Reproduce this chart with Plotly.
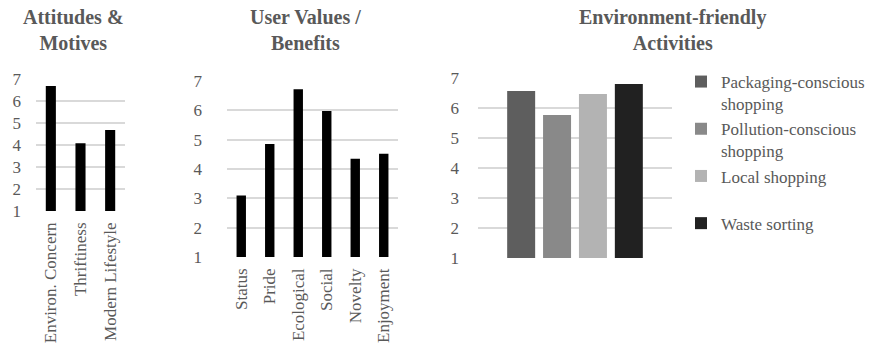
import plotly.graph_objects as go

# Mean scores on a 1-7 scale
attitude_labels = ["Environ. Concern", "Thriftiness", "Modern Lifestyle"]
attitude_scores = [6.68, 4.08, 4.68]

value_labels = ["Status", "Pride", "Ecological", "Social", "Novelty", "Enjoyment"]
value_scores = [3.10, 4.85, 6.72, 5.98, 4.35, 4.52]

activity_names = ["Packaging-conscious<br>shopping", "Pollution-conscious<br>shopping",
                  "Local shopping<br> ", "Waste sorting"]
activity_scores = [6.57, 5.77, 6.47, 6.80]
activity_colors = ["#5e5e5e", "#898989", "#b3b3b3", "#212121"]

tick_vals = [1, 2, 3, 4, 5, 6, 7]
titles = ["Attitudes &<br>Motives", "User Values /<br>Benefits", "Environment-friendly<br>Activities"]

W, H = 870, 346
FONT = "Liberation Serif"
TXT = "#595959"
GRID = "#d9d9d9"


def xd(a, b):
    return [a / W, b / W]


def yd(top, bottom):
    return [1 - bottom / H, 1 - top / H]


fig = go.Figure()

fig.add_trace(go.Bar(x=attitude_labels, y=attitude_scores, width=0.34,
                     marker=dict(color="#000000"), showlegend=False,
                     xaxis="x", yaxis="y"))
fig.add_trace(go.Bar(x=value_labels, y=value_scores, width=0.33,
                     marker=dict(color="#000000"), showlegend=False,
                     xaxis="x2", yaxis="y2"))
for i, (name, val, col) in enumerate(zip(activity_names, activity_scores, activity_colors)):
    fig.add_trace(go.Bar(x=["Activities"], y=[val], name=name,
                         marker=dict(color=col), legendgroup=f"g{i}",
                         xaxis="x3", yaxis="y3"))

yaxis_common = dict(range=[1, 7], tickvals=tick_vals, showgrid=True, gridcolor=GRID,
                    gridwidth=1.5, zeroline=False, showline=False, ticks="",
                    automargin=False,
                    tickfont=dict(family=FONT, size=17, color=TXT))
xaxis_common = dict(showgrid=False, zeroline=False, showline=False, ticks="",
                    automargin=False, tickangle=-90, ticklabelstandoff=7,
                    tickfont=dict(family=FONT, size=17, color=TXT))

fig.update_layout(
    template="none",
    width=W, height=H, margin=dict(l=0, r=0, t=0, b=0, pad=0),
    paper_bgcolor="white", plot_bgcolor="white",
    barmode="group", bargap=0.26, bargroupgap=0.22,
    xaxis=dict(domain=xd(36, 125), anchor="y", **xaxis_common),
    yaxis=dict(domain=yd(79, 211), anchor="x", ticklabelstandoff=14, **yaxis_common),
    xaxis2=dict(domain=xd(227, 398), anchor="y2", **xaxis_common),
    yaxis2=dict(domain=yd(81, 257), anchor="x2", ticklabelstandoff=24, **yaxis_common),
    xaxis3=dict(domain=xd(478, 672), anchor="y3", showticklabels=False, **xaxis_common),
    yaxis3=dict(domain=yd(78, 258), anchor="x3", ticklabelstandoff=18, **yaxis_common),
    legend=dict(x=1, y=1 - 64 / H, xanchor="right", yanchor="top",
                font=dict(family=FONT, size=17, color=TXT), valign="top",
                tracegroupgap=0, bgcolor="rgba(0,0,0,0)"),
)

title_centers = [73, 305, 672]
for t, cx in zip(titles, title_centers):
    fig.add_annotation(text=t, x=cx / W, y=1 - 4 / H, xref="paper", yref="paper",
                       xanchor="center", yanchor="top", showarrow=False,
                       font=dict(family=FONT, size=20, color=TXT, weight="bold"))

fig.write_html("out.html")
